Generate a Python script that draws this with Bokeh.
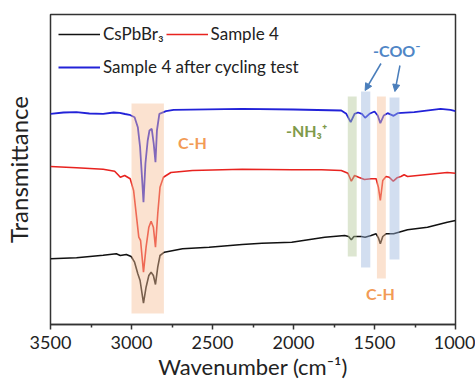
from bokeh.plotting import figure
from bokeh.models import Range1d, FixedTicker, Legend, LegendItem, Label, Arrow, NormalHead
from bokeh.embed import file_html
from bokeh.resources import INLINE

# ---------------- data ----------------
x_ticks = [3500, 3000, 2500, 2000, 1500, 1000]
x_minor = [3250, 2750, 2250, 1750, 1250]

# CsPbBr3 (black)
wn_black = [3500, 3339, 3175, 3094, 3069, 3032, 3002, 2981, 2961, 2947, 2926, 2910, 2893, 2879,
            2865, 2852, 2838, 2824, 2797, 2685, 2521, 2317, 2195, 2011, 1807, 1684, 1660, 1643,
            1627, 1582, 1558, 1521, 1490, 1476, 1464, 1449, 1429, 1382, 1296, 1173, 1051, 1000]
t_black = [65.7, 66.7, 69.3, 70.7, 69.0, 70.0, 68.0, 62.3, 50.7, 44.0, 21.3, 37.3, 49.0, 52.3,
           49.0, 40.0, 57.3, 69.0, 72.3, 75.7, 77.3, 80.0, 81.3, 82.3, 87.3, 89.0, 88.0, 84.7,
           88.0, 88.0, 87.3, 89.0, 90.7, 86.7, 80.7, 88.0, 90.7, 90.7, 94.7, 97.3, 102.3, 104.0]

# Sample 4 (red)
wn_red = [3500, 3339, 3175, 3104, 3083, 3069, 3042, 3008, 2987, 2971, 2955, 2944, 2926, 2910,
          2893, 2879, 2865, 2852, 2838, 2824, 2803, 2757, 2624, 2317, 2011, 1827, 1705, 1664,
          1643, 1623, 1598, 1562, 1521, 1490, 1476, 1464, 1449, 1429, 1409, 1384, 1361, 1337,
          1317, 1296, 1173, 1051, 1000]
t_red = [158.0, 156.7, 155.3, 153.3, 149.7, 147.3, 149.0, 145.7, 134.0, 110.7, 87.3, 84.0, 52.3, 77.3,
         97.3, 103.3, 97.3, 77.3, 110.7, 137.3, 147.3, 152.0, 154.0, 155.2, 154.7, 154.7, 154.0, 151.3,
         143.3, 149.0, 147.3, 145.0, 145.7, 145.7, 137.3, 124.0, 144.0, 148.0, 147.3, 143.3, 146.7, 148.0,
         149.7, 148.0, 150.0, 152.0, 151.3]

# Sample 4 after cycling test (blue)
wn_blue = [3500, 3420, 3340, 3260, 3175, 3110, 3073, 3040, 3012, 2981, 2961, 2947, 2934, 2926,
           2914, 2900, 2889, 2875, 2863, 2852, 2843, 2828, 2787, 2740, 2317, 2000, 1705, 1674,
           1647, 1623, 1602, 1578, 1558, 1531, 1500, 1480, 1464, 1443, 1419, 1382, 1357, 1255,
           1092, 1031, 1000]
t_blue = [210.7, 212.0, 212.3, 211.0, 210.7, 212.0, 211.7, 210.5, 209.7, 207.3, 197.3, 177.3, 144.0, 122.3,
          161.0, 184.0, 194.0, 195.7, 181.0, 162.3, 194.0, 210.7, 213.3, 214.7, 215.7, 215.0, 214.0, 210.7,
          202.3, 210.7, 212.0, 210.7, 206.7, 210.7, 213.0, 209.0, 201.3, 209.0, 211.3, 208.7, 211.3, 212.3,
          215.7, 214.7, 213.3]

# highlighted bands
band_left = [3000, 1665, 1583, 1485, 1407]
band_right = [2800, 1610, 1526, 1430, 1346]
band_bottom = [11, 68, 57, 46, 65]
band_top = [221, 228, 233, 228, 227]
band_color = ["#F7BE96", "#B4C79A", "#9CB6DE", "#F7BE96", "#9CB6DE"]

FONT = "Lato"
INK = "#222222"

p = figure(width=475, height=386, output_backend="svg", toolbar_location=None,
           x_range=Range1d(3500, 1000), y_range=Range1d(0, 310),
           min_border_left=47, min_border_right=20, min_border_top=14, min_border_bottom=62)
p.grid.visible = False
p.background_fill_color = "white"
p.border_fill_color = "white"
p.outline_line_color = "#333333"
p.outline_line_width = 1.5
p.outline_line_alpha = 1.0

# x axis
xa = p.xaxis[0]
xa.ticker = FixedTicker(ticks=x_ticks, minor_ticks=x_minor)
xa.axis_line_color = "#333333"
xa.axis_line_width = 1.5
xa.major_tick_line_color = "#333333"
xa.major_tick_line_width = 1.5
xa.minor_tick_line_color = "#333333"
xa.minor_tick_line_width = 1.5
xa.major_tick_in = 0
xa.major_tick_out = 5
xa.minor_tick_in = 0
xa.minor_tick_out = 3
xa.major_label_text_font = FONT
xa.major_label_text_font_size = "18px"
xa.major_label_text_color = INK
xa.major_label_standoff = 6
xa.axis_label = "Wavenumber (cm⁻¹)"
xa.axis_label_text_font = FONT
xa.axis_label_text_font_size = "22px"
xa.axis_label_text_font_style = "normal"
xa.axis_label_text_color = INK
xa.axis_label_standoff = 1

# y axis
ya = p.yaxis[0]
ya.ticker = FixedTicker(ticks=[])
ya.axis_line_color = None
ya.major_tick_line_color = None
ya.minor_tick_line_color = None
ya.major_tick_out = 0
ya.major_label_standoff = 0
ya.axis_label = "Transmittance"
ya.axis_label_text_font = FONT
ya.axis_label_text_font_size = "24px"
ya.axis_label_text_font_style = "normal"
ya.axis_label_text_color = INK
ya.axis_label_standoff = 18

# spectra
r_black = p.line(wn_black, t_black, line_color="#111111", line_width=1.6)
r_red = p.line(wn_red, t_red, line_color="#E8231F", line_width=1.6)
r_blue = p.line(wn_blue, t_blue, line_color="#2222D8", line_width=1.8)

# bands on top (semi-transparent)
p.quad(left=band_left, right=band_right, bottom=band_bottom, top=band_top,
       fill_color=band_color, fill_alpha=0.45, line_color=None)

# legends
leg_kw = dict(background_fill_alpha=0, border_line_color=None, margin=0, padding=0,
              glyph_width=42, glyph_height=20, label_standoff=3, spacing=2,
              label_text_font=FONT, label_text_font_size="17px", label_text_color=INK,
              orientation="horizontal")
leg1 = Legend(items=[LegendItem(label="CsPbBr₃", renderers=[r_black]),
                     LegendItem(label="Sample 4", renderers=[r_red])],
              location=(8, 280), **leg_kw)
leg2 = Legend(items=[LegendItem(label="Sample 4 after cycling test", renderers=[r_blue])],
              location=(8, 247), **leg_kw)
p.add_layout(leg1)
p.add_layout(leg2)

# annotations
lab_kw = dict(text_font=FONT, text_font_size="16px", text_font_style="bold",
              text_align="center", text_baseline="middle")
p.add_layout(Label(x=2624, y=182, text="C-H", text_color="#F29B55", **lab_kw))
p.add_layout(Label(x=1919, y=194, text="-NH₃⁺", text_color="#7F9A4A", **lab_kw))
p.add_layout(Label(x=1362, y=274, text="-COO⁻", text_color="#4F86C6", **lab_kw))
p.add_layout(Label(x=1464, y=31, text="C-H", text_color="#F29B55", **lab_kw))

p.add_layout(Arrow(x_start=1460, y_start=261, x_end=1558, y_end=234,
                   line_color="#4A7EBB", line_width=1.5,
                   end=NormalHead(size=7, fill_color="#4A7EBB", line_color="#4A7EBB")))
p.add_layout(Arrow(x_start=1343, y_start=259, x_end=1374, y_end=233,
                   line_color="#4A7EBB", line_width=1.5,
                   end=NormalHead(size=7, fill_color="#4A7EBB", line_color="#4A7EBB")))

open("out.html", "w").write(file_html(p, INLINE))
